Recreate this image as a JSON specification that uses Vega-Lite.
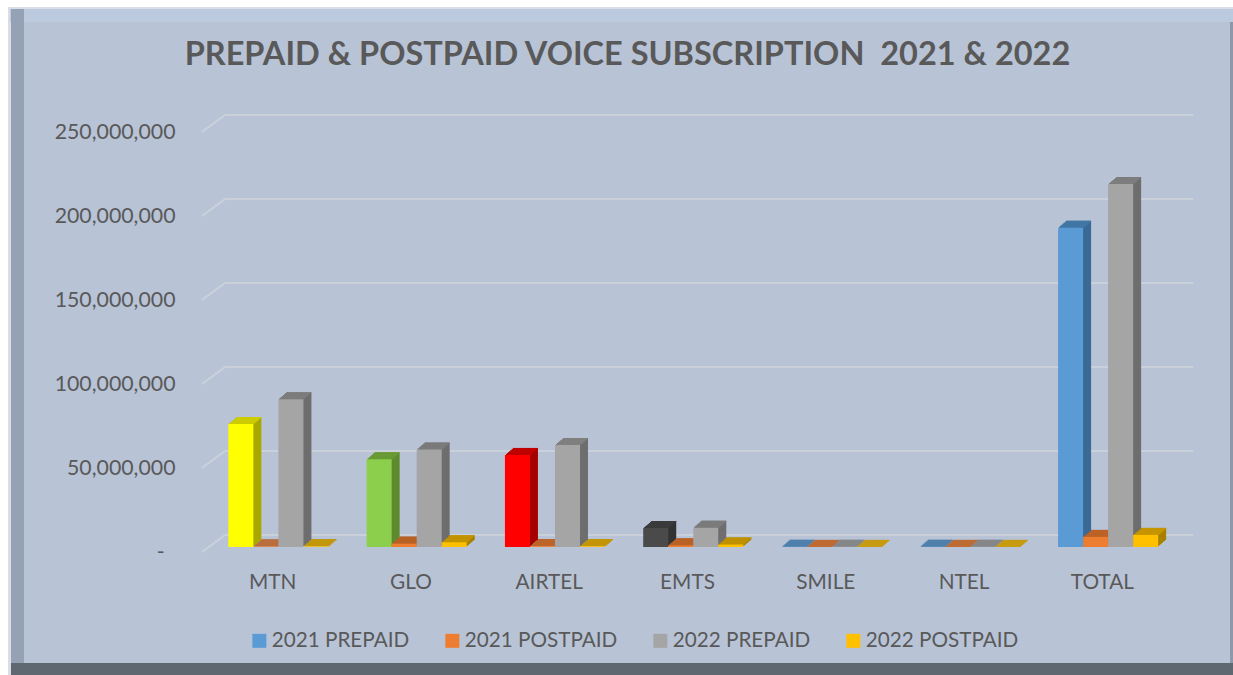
{"$schema":"https://vega.github.io/schema/vega-lite/v6.json","width":973,"height":420,"autosize":{"type":"none"},"padding":{"left":202,"top":132,"right":58,"bottom":123},"background":"#ffffff","config":{"view":{"stroke":null},"font":"Lato"},"title":{"text":"PREPAID & POSTPAID VOICE SUBSCRIPTION\u00a0\u00a02021 & 2022","font":"Lato","fontSize":32.5,"fontWeight":"bold","color":"#595959","anchor":"middle","dx":-61,"offset":-64},"layer":[
{"data":{"values":[{"part":"frame"}]},"layer":[
{"mark":{"type":"rect","color":"#D8DDE6"},"encoding":{"x":{"value":-194},"x2":{"value":1031},"y":{"value":-125},"y2":{"value":543}}},
{"mark":{"type":"rect","color":"#BCCADF"},"encoding":{"x":{"value":-192},"x2":{"value":1031},"y":{"value":-123},"y2":{"value":-110}}},
{"mark":{"type":"rect","color":"#95A1B5"},"encoding":{"x":{"value":-191},"x2":{"value":-178},"y":{"value":-123},"y2":{"value":543}}},
{"mark":{"type":"rect","color":"#B8C3D6"},"encoding":{"x":{"value":-178},"x2":{"value":1028},"y":{"value":-110},"y2":{"value":531}}},
{"mark":{"type":"rect","color":"#8D98AB"},"encoding":{"x":{"value":1028},"x2":{"value":1031},"y":{"value":-110},"y2":{"value":531}}},
{"mark":{"type":"rect","color":"#5F6770"},"encoding":{"x":{"value":-191},"x2":{"value":1031},"y":{"value":531},"y2":{"value":543}}}
]},
{"data":{"values":[{"tick":0},{"tick":50000000},{"tick":100000000},{"tick":150000000},{"tick":200000000},{"tick":250000000}]},"layer":[
{"mark":{"type":"rule","color":"#CBD1DB","strokeWidth":2,"yOffset":-17,"y2Offset":-17},"encoding":{"x":{"value":23},"x2":{"value":991},"y":{"field":"tick","type":"quantitative","scale":{"domain":[0,250000000],"nice":false}}}},
{"mark":{"type":"rule","color":"#CBD1DB","strokeWidth":2,"y2Offset":-17,"x2Offset":23},"encoding":{"x":{"value":0},"x2":{"value":0},"y":{"field":"tick","type":"quantitative"},"y2":{"field":"tick"}}}
]},
{"data":{"values":[
{"operator":"MTN","series":"2021 PREPAID","value":73200000},{"operator":"MTN","series":"2021 POSTPAID","value":300000},{"operator":"MTN","series":"2022 PREPAID","value":88000000},{"operator":"MTN","series":"2022 POSTPAID","value":400000},
{"operator":"GLO","series":"2021 PREPAID","value":52200000},{"operator":"GLO","series":"2021 POSTPAID","value":2000000},{"operator":"GLO","series":"2022 PREPAID","value":58000000},{"operator":"GLO","series":"2022 POSTPAID","value":2800000},
{"operator":"AIRTEL","series":"2021 PREPAID","value":54800000},{"operator":"AIRTEL","series":"2021 POSTPAID","value":500000},{"operator":"AIRTEL","series":"2022 PREPAID","value":60700000},{"operator":"AIRTEL","series":"2022 POSTPAID","value":500000},
{"operator":"EMTS","series":"2021 PREPAID","value":11300000},{"operator":"EMTS","series":"2021 POSTPAID","value":1000000},{"operator":"EMTS","series":"2022 PREPAID","value":11500000},{"operator":"EMTS","series":"2022 POSTPAID","value":1500000},
{"operator":"SMILE","series":"2021 PREPAID","value":100000},{"operator":"SMILE","series":"2021 POSTPAID","value":50000},{"operator":"SMILE","series":"2022 PREPAID","value":100000},{"operator":"SMILE","series":"2022 POSTPAID","value":50000},
{"operator":"NTEL","series":"2021 PREPAID","value":100000},{"operator":"NTEL","series":"2021 POSTPAID","value":50000},{"operator":"NTEL","series":"2022 PREPAID","value":100000},{"operator":"NTEL","series":"2022 POSTPAID","value":50000},
{"operator":"TOTAL","series":"2021 PREPAID","value":190000000},{"operator":"TOTAL","series":"2021 POSTPAID","value":6000000},{"operator":"TOTAL","series":"2022 PREPAID","value":216000000},{"operator":"TOTAL","series":"2022 POSTPAID","value":7200000}
]},
"transform":[{"calculate":"datum.series=='2021 PREPAID'&&indexof(['MTN','GLO','AIRTEL','EMTS'],datum.operator)>=0?datum.operator:datum.series","as":"paint"}],
"encoding":{
"x":{"field":"operator","type":"nominal","sort":null,"title":null,"scale":{"range":[0,968],"paddingInner":0.28,"paddingOuter":0.14},"axis":{"zindex":1,"labelAngle":0,"labelFont":"Lato","labelFontSize":20.8,"labelColor":"#595959","labelPadding":20,"labelOffset":1.5,"ticks":false,"domain":false,"grid":false}},
"y":{"field":"value","type":"quantitative","stack":null,"title":null,"scale":{"domain":[0,250000000],"nice":false},"axis":{"zindex":1,"values":[0,50000000,100000000,150000000,200000000,250000000],"labelExpr":"datum.value==0?'-\u00a0\u00a0\u200b':format(datum.value,',')","labelFont":"Lato","labelFontSize":21.3,"labelColor":"#595959","labelPadding":27,"labelOffset":0,"ticks":false,"domain":false,"grid":false}}
},
"layer":[
{"encoding":{"y2":{"datum":0},"color":{"field":"paint","type":"nominal","legend":null,"scale":{"domain":["MTN","GLO","AIRTEL","EMTS","2021 PREPAID","2021 POSTPAID","2022 PREPAID","2022 POSTPAID"],"range":["#A8A800","#5F8A2F","#A50000","#333333","#3A6A95","#AD5B24","#6E6E6E","#A88000"]}}},
"layer":[
{"mark":{"type":"bar","yOffset":-12,"y2Offset":-12},"encoding":{"xOffset":{"field":"series","sort":null,"scale":{"range":[15,115.08],"paddingInner":0,"paddingOuter":0}}}},
{"mark":{"type":"bar","yOffset":-11,"y2Offset":-11},"encoding":{"xOffset":{"field":"series","sort":null,"scale":{"range":[13.9,113.98],"paddingInner":0,"paddingOuter":0}}}},
{"mark":{"type":"bar","yOffset":-10,"y2Offset":-10},"encoding":{"xOffset":{"field":"series","sort":null,"scale":{"range":[12.7,112.78],"paddingInner":0,"paddingOuter":0}}}},
{"mark":{"type":"bar","yOffset":-9,"y2Offset":-9},"encoding":{"xOffset":{"field":"series","sort":null,"scale":{"range":[11.6,111.68],"paddingInner":0,"paddingOuter":0}}}},
{"mark":{"type":"bar","yOffset":-8,"y2Offset":-8},"encoding":{"xOffset":{"field":"series","sort":null,"scale":{"range":[10.4,110.48],"paddingInner":0,"paddingOuter":0}}}},
{"mark":{"type":"bar","yOffset":-7,"y2Offset":-7},"encoding":{"xOffset":{"field":"series","sort":null,"scale":{"range":[9.3,109.38],"paddingInner":0,"paddingOuter":0}}}},
{"mark":{"type":"bar","yOffset":-6,"y2Offset":-6},"encoding":{"xOffset":{"field":"series","sort":null,"scale":{"range":[8.1,108.18],"paddingInner":0,"paddingOuter":0}}}}
],"resolve":{"scale":{"xOffset":"independent"}}},
{"encoding":{"y2":{"field":"value"},"color":{"field":"paint","type":"nominal","legend":null,"scale":{"domain":["MTN","GLO","AIRTEL","EMTS","2021 PREPAID","2021 POSTPAID","2022 PREPAID","2022 POSTPAID"],"range":["#CCCC00","#6C9E38","#C00000","#3A3A3A","#4379A8","#BE6428","#7F7F7F","#C89800"]}}},
"layer":[
{"mark":{"type":"bar","yOffset":-12,"y2Offset":-11},"encoding":{"xOffset":{"field":"series","sort":null,"scale":{"range":[15,115.08],"paddingInner":0,"paddingOuter":0}}}},
{"mark":{"type":"bar","yOffset":-11,"y2Offset":-10},"encoding":{"xOffset":{"field":"series","sort":null,"scale":{"range":[13.9,113.98],"paddingInner":0,"paddingOuter":0}}}},
{"mark":{"type":"bar","yOffset":-10,"y2Offset":-9},"encoding":{"xOffset":{"field":"series","sort":null,"scale":{"range":[12.7,112.78],"paddingInner":0,"paddingOuter":0}}}},
{"mark":{"type":"bar","yOffset":-9,"y2Offset":-8},"encoding":{"xOffset":{"field":"series","sort":null,"scale":{"range":[11.6,111.68],"paddingInner":0,"paddingOuter":0}}}},
{"mark":{"type":"bar","yOffset":-8,"y2Offset":-7},"encoding":{"xOffset":{"field":"series","sort":null,"scale":{"range":[10.4,110.48],"paddingInner":0,"paddingOuter":0}}}},
{"mark":{"type":"bar","yOffset":-7,"y2Offset":-6},"encoding":{"xOffset":{"field":"series","sort":null,"scale":{"range":[9.3,109.38],"paddingInner":0,"paddingOuter":0}}}},
{"mark":{"type":"bar","yOffset":-6,"y2Offset":-5},"encoding":{"xOffset":{"field":"series","sort":null,"scale":{"range":[8.1,108.18],"paddingInner":0,"paddingOuter":0}}}}
],"resolve":{"scale":{"xOffset":"independent"}}},
{"mark":{"type":"bar","yOffset":-5,"y2Offset":-5},"encoding":{"y2":{"datum":0},"xOffset":{"field":"series","sort":null,"scale":{"range":[7,107.08],"paddingInner":0,"paddingOuter":0}},"color":{"field":"paint","type":"nominal","scale":{"domain":["MTN","GLO","AIRTEL","EMTS","2021 PREPAID","2021 POSTPAID","2022 PREPAID","2022 POSTPAID"],"range":["#FFFF00","#8CCF4D","#FF0000","#4A4A4A","#5B9BD5","#ED7D31","#A5A5A5","#FFC000"]},"legend":{"values":["2021 PREPAID","2021 POSTPAID","2022 PREPAID","2022 POSTPAID"],"title":null,"orient":"none","legendX":47,"legendY":498,"direction":"horizontal","columns":4,"columnPadding":32,"symbolType":"square","symbolSize":196,"symbolStrokeWidth":0,"labelFont":"Lato","labelFontSize":20.7,"labelColor":"#595959","labelOffset":2}}}}
],
"resolve":{"scale":{"color":"independent","xOffset":"independent"}}
}
]}
